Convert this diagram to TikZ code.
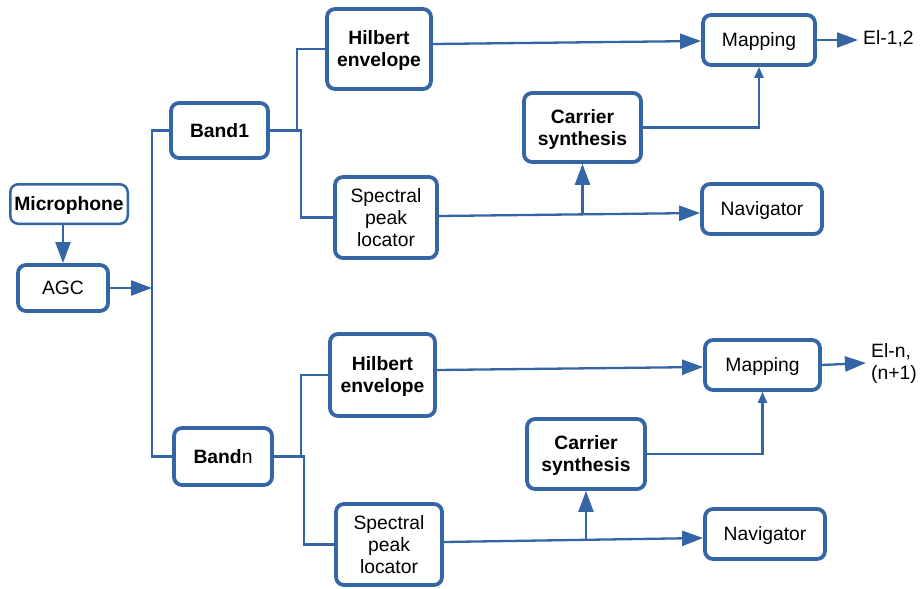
\documentclass[tikz,border=0pt]{standalone}
\usepackage{fontspec}
\setmainfont{Liberation Sans}
\usetikzlibrary{arrows.meta}
\definecolor{lineblue}{RGB}{52,101,164}
\begin{document}
\begin{tikzpicture}[x=1pt,y=-1pt,
  every node/.style={font=\fontsize{19.3}{22}\selectfont},
  box/.style={draw=lineblue, line width=3.8pt, rounded corners=8pt, align=center, inner sep=0pt, fill=white, text depth=0pt},
  thinbox/.style={box, line width=2.5pt},
  wire/.style={draw=lineblue, line width=2.3pt},
  arr/.style={wire, -{Triangle[length=21pt 0 0,width=15pt 0 0]}},
  arrsmall/.style={wire, -{Triangle[length=11pt 0 0,width=9pt 0 0]}},
  outlabel/.style={anchor=west, inner sep=0pt, align=left}]
\useasboundingbox (0,0) rectangle (921,589);

% input stage
\node[thinbox, minimum width=117.5pt, minimum height=39.5pt] (mic) at (69,204) {\textbf{Microphone}};
\node[box, minimum width=90pt, minimum height=46pt] (agc) at (63,288) {AGC};
\coordinate (bus) at (152,288);

% filter bands
\node[box, minimum width=97pt, minimum height=55pt] (band1) at (219.5,130.5) {\textbf{Band1}};
\node[box, minimum width=98pt, minimum height=57pt] (bandn) at (223,456.5) {\textbf{Band}n};

% band 1 channel
\node[box, minimum width=104pt, minimum height=80pt] (hil1) at (379,49) {\textbf{Hilbert}\\\textbf{envelope}};
\node[box, minimum width=102pt, minimum height=81pt] (spec1) at (386,217.5) {Spectral\\peak\\locator};
\node[box, minimum width=117pt, minimum height=69pt] (car1) at (582.5,127.5) {\textbf{Carrier}\\\textbf{synthesis}};
\node[box, minimum width=112pt, minimum height=50pt] (map1) at (759,40) {Mapping};
\node[box, minimum width=120pt, minimum height=50pt] (nav1) at (762,209) {Navigator};
\node[outlabel] (out1) at (863,39) {El-1,2};

% band n channel
\node[box, minimum width=105pt, minimum height=82pt] (hiln) at (382.5,375) {\textbf{Hilbert}\\\textbf{envelope}};
\node[box, minimum width=106pt, minimum height=81pt] (specn) at (389,544.5) {Spectral\\peak\\locator};
\node[box, minimum width=118pt, minimum height=70pt] (carn) at (586,454) {\textbf{Carrier}\\\textbf{synthesis}};
\node[box, minimum width=115pt, minimum height=50pt] (mapn) at (762.5,365) {Mapping};
\node[box, minimum width=120pt, minimum height=50pt] (navn) at (765,534) {Navigator};
\node[outlabel] (outn) at (871,364) {El-n,\\(n+1)};

% junction columns
\coordinate (j1a) at (297,0);
\coordinate (j1b) at (301,0);
\coordinate (j2a) at (301,0);
\coordinate (j2b) at (304,0);

% input wiring
\draw[arr] (mic.south -| agc.north) -- (agc.north);
\draw[arr] (agc.east) -- (bus);
\draw[wire] (band1.west) -- (bus |- band1.west) -- (bus |- bandn.west) -- (bandn.west);

% band 1 wiring
\draw[wire] (band1.east) -- (band1.east -| j1a) |- (hil1.west);
\draw[wire] (band1.east) -- (band1.east -| j1b) |- (spec1.west);
\draw[arr] ([yshift=5pt]hil1.east) -- ([yshift=-1pt]map1.west);
\draw[arr] ([yshift=1.5pt]spec1.east) -- ([yshift=-4pt]nav1.west);
\coordinate (b1) at (car1.south |- 0,214.5);
\draw[arr] (b1) -- (car1.south);
\draw[arrsmall] (car1.east) -| (map1.south);
\draw[arr] (map1.east) -- ([xshift=-5pt]out1.west |- map1.east);

% band n wiring
\draw[wire] (bandn.east) -- (bandn.east -| j2a) |- (hiln.west);
\draw[wire] (bandn.east) -- (bandn.east -| j2b) |- (specn.west);
\draw[arr] ([yshift=5pt]hiln.east) -- ([yshift=-2pt]mapn.west);
\draw[arr] ([yshift=2.5pt]specn.east) -- ([yshift=-4pt]navn.west);
\coordinate (bn) at (carn.south |- 0,540);
\draw[arr] (bn) -- (carn.south);
\draw[arrsmall] (carn.east) -| (mapn.south);
\draw[arr] (mapn.east) -- ([xshift=-5pt]outn.west |- 0,363);
\end{tikzpicture}
\end{document}
